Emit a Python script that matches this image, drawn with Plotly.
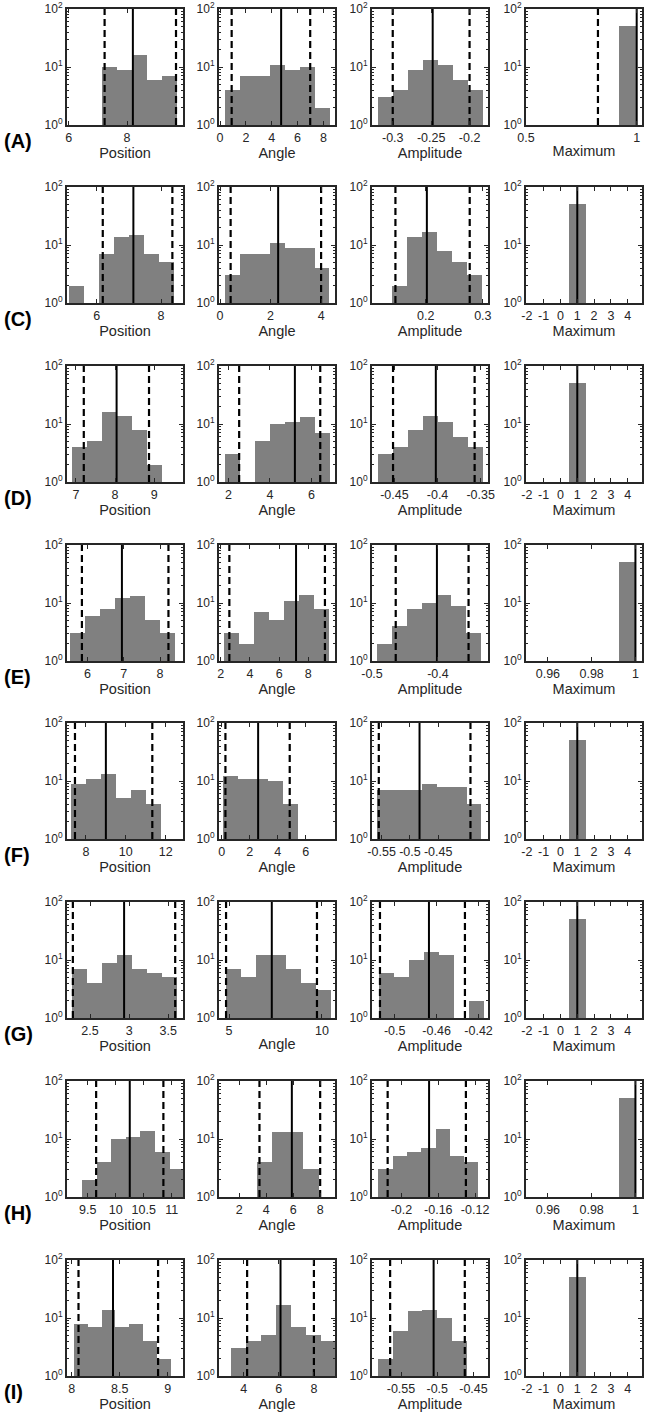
import plotly.graph_objects as go

W, H = 646, 1418

ROW_LABELS = ["(A)", "(C)", "(D)", "(E)", "(F)", "(G)", "(H)", "(I)"]
PARAM_NAMES = ["Position", "Angle", "Amplitude", "Maximum"]

# ---------------- Position ----------------
POSITION_BIN_START = [7.14, 5.13, 6.89, 5.53, 7.25, 2.27, 9.40, 8.02]
POSITION_BIN_WIDTH = [0.515, 0.466, 0.385, 0.413, 0.754, 0.192, 0.26, 0.145]
POSITION_COUNTS = [
    [10, 9, 16, 6, 7],
    [2, 0, 7, 14, 15, 7, 5],
    [4, 5, 16, 14, 8, 2],
    [3, 6, 8, 12, 13, 5, 3],
    [9, 11, 13, 5, 7, 4],
    [7, 4, 9, 12, 7, 6, 5],
    [2, 4, 10, 11, 14, 6, 3],
    [8, 7, 14, 7, 8, 4, 2],
]
POSITION_SOLID = [8.2, 7.14, 8.04, 6.95, 9.0, 2.936, 10.25, 8.43]
POSITION_DASH_LO = [7.23, 6.19, 7.2, 5.85, 7.45, 2.28, 9.65, 8.07]
POSITION_DASH_HI = [9.68, 8.35, 8.87, 8.23, 11.33, 3.59, 10.85, 8.9]
POSITION_XRANGE = [[5.94, 9.92], [5.08, 8.68], [6.77, 9.74], [5.44, 8.63],
                   [7.05, 12.87], [2.205, 3.69], [9.13, 11.2], [7.95, 9.16]]
POSITION_TICKS = [[6, 8], [6, 8], [7, 8, 9], [6, 7, 8], [8, 10, 12],
                  [2.5, 3, 3.5], [9.5, 10, 10.5, 11], [8, 8.5, 9]]

# ---------------- Angle ----------------
ANGLE_BIN_START = [0.41, 0.2, 1.84, 2.23, 0.07, 4.82, 3.3, 3.3]
ANGLE_BIN_WIDTH = [1.16, 0.59, 0.72, 1.03, 1.08, 0.806, 1.15, 0.85]
ANGLE_COUNTS = [
    [4, 7, 7, 11, 9, 10, 2],
    [3, 7, 7, 11, 9, 9, 4],
    [3, 0, 5, 10, 11, 13, 7],
    [3, 2, 7, 5, 11, 14, 8],
    [12, 11, 11, 10, 4],
    [7, 5, 12, 12, 7, 4, 3],
    [4, 13, 13, 3],
    [3, 4, 5, 17, 7, 5, 4],
]
ANGLE_SOLID = [4.73, 2.3, 5.2, 7.16, 2.6, 7.3, 5.9, 6.1]
ANGLE_DASH_LO = [0.9, 0.42, 2.52, 2.59, 0.26, 4.84, 3.5, 4.2]
ANGLE_DASH_HI = [6.98, 4.0, 6.42, 9.14, 4.86, 9.73, 8.0, 8.0]
ANGLE_XRANGE = [[-0.08, 8.9], [-0.04, 4.55], [1.55, 7.13], [1.88, 9.83],
                [-0.2, 8.1], [4.46, 10.7], [0.5, 9.1], [2.6, 9.2]]
ANGLE_TICKS = [[0, 2, 4, 6, 8], [0, 2, 4], [2, 4, 6], [2, 4, 6, 8],
               [0, 2, 4, 6], [5, 10], [2, 4, 6, 8], [4, 6, 8]]

# ---------------- Amplitude ----------------
AMPLITUDE_BIN_START = [-0.319, 0.141, -0.469, -0.493, -0.559, -0.515, -0.225, -0.582]
AMPLITUDE_BIN_WIDTH = [0.0195, 0.0262, 0.01736, 0.0227, 0.0265, 0.0143, 0.0155, 0.0205]
AMPLITUDE_COUNTS = [
    [3, 4, 9, 13, 11, 6, 4],
    [2, 14, 17, 8, 5, 3],
    [3, 4, 8, 14, 11, 6, 4],
    [2, 4, 8, 10, 14, 9, 3],
    [7, 7, 7, 9, 8, 8, 4],
    [6, 5, 10, 14, 12, 0, 2],
    [3, 5, 6, 7, 15, 5, 4],
    [2, 6, 13, 14, 10, 4],
]
AMPLITUDE_SOLID = [-0.248, 0.202, -0.402, -0.4015, -0.483, -0.4673, -0.17, -0.505]
AMPLITUDE_DASH_LO = [-0.3, 0.147, -0.4516, -0.464, -0.555, -0.514, -0.215, -0.565]
AMPLITUDE_DASH_HI = [-0.2, 0.277, -0.357, -0.3535, -0.393, -0.433, -0.13, -0.462]
AMPLITUDE_XRANGE = [[-0.327, -0.176], [0.106, 0.309], [-0.476, -0.3415], [-0.5, -0.324],
                    [-0.567, -0.362], [-0.5216, -0.411], [-0.232, -0.106], [-0.59, -0.43]]
AMPLITUDE_TICKS = [[-0.3, -0.25, -0.2], [0.2, 0.3], [-0.45, -0.4, -0.35], [-0.5, -0.4],
                   [-0.55, -0.5, -0.45], [-0.5, -0.46, -0.42], [-0.2, -0.16, -0.12],
                   [-0.55, -0.5, -0.45]]

# ---------------- Maximum ----------------
MAXIMUM_BIN_START = [0.92, 0.5, 0.5, 0.9925, 0.5, 0.5, 0.9925, 0.5]
MAXIMUM_BIN_WIDTH = [0.08, 1.0, 1.0, 0.0075, 1.0, 1.0, 0.0075, 1.0]
MAXIMUM_COUNTS = [[50], [50], [50], [50], [50], [50], [50], [50]]
MAXIMUM_SOLID = [1.0, 1.0, 1.0, 1.0, 1.0, 1.0, 1.0, 1.0]
MAXIMUM_DASH_LO = [0.825, None, None, None, None, None, None, None]
MAXIMUM_DASH_HI = [None, None, None, None, None, None, None, None]
MAXIMUM_XRANGE = [[0.5, 1.024], [-2.05, 4.85], [-2.05, 4.85], [0.95, 1.003],
                  [-2.05, 4.85], [-2.05, 4.85], [0.95, 1.003], [-2.05, 4.85]]
MAXIMUM_TICKS = [[0.5, 1], [-2, -1, 0, 1, 2, 3, 4], [-2, -1, 0, 1, 2, 3, 4],
                 [0.96, 0.98, 1], [-2, -1, 0, 1, 2, 3, 4], [-2, -1, 0, 1, 2, 3, 4],
                 [0.96, 0.98, 1], [-2, -1, 0, 1, 2, 3, 4]]

COLUMNS = [
    (POSITION_BIN_START, POSITION_BIN_WIDTH, POSITION_COUNTS, POSITION_SOLID,
     POSITION_DASH_LO, POSITION_DASH_HI, POSITION_XRANGE, POSITION_TICKS),
    (ANGLE_BIN_START, ANGLE_BIN_WIDTH, ANGLE_COUNTS, ANGLE_SOLID,
     ANGLE_DASH_LO, ANGLE_DASH_HI, ANGLE_XRANGE, ANGLE_TICKS),
    (AMPLITUDE_BIN_START, AMPLITUDE_BIN_WIDTH, AMPLITUDE_COUNTS, AMPLITUDE_SOLID,
     AMPLITUDE_DASH_LO, AMPLITUDE_DASH_HI, AMPLITUDE_XRANGE, AMPLITUDE_TICKS),
    (MAXIMUM_BIN_START, MAXIMUM_BIN_WIDTH, MAXIMUM_COUNTS, MAXIMUM_SOLID,
     MAXIMUM_DASH_LO, MAXIMUM_DASH_HI, MAXIMUM_XRANGE, MAXIMUM_TICKS),
]

# layout geometry (pixels)
COL_LEFT = [67, 219, 372, 526]
PANEL_W = 116
ROW_TOP = [9, 187, 366, 545, 723, 902, 1081, 1260]
PANEL_H = 116

FONT = "Liberation Sans, Arial, sans-serif"
AX_COLOR = "#262626"
BAR_COLOR = "#808080"


def fmt(v):
    return "%g" % v


def px_x(p):
    return p / W


def px_y(p):
    return 1 - p / H


fig = go.Figure()
layout = dict(
    width=W, height=H, margin=dict(l=0, r=0, t=0, b=0, pad=0, autoexpand=False),
    paper_bgcolor="white", plot_bgcolor="white", showlegend=False,
    font=dict(family=FONT, size=12, color=AX_COLOR),
    annotations=[],
)

minor_vals = [m * 10 ** e for e in range(0, 2) for m in range(2, 10)]

for r in range(len(ROW_LABELS)):
    for c in range(4):
        n = r * 4 + c + 1
        xa = "x" if n == 1 else f"x{n}"
        ya = "y" if n == 1 else f"y{n}"
        start, width, counts, solid, dlo, dhi, xr, ticks = [col[r] for col in COLUMNS[c]]
        centers = [start + width * (i + 0.5) for i in range(len(counts))]
        yvals = [v if v > 0 else None for v in counts]
        fig.add_trace(go.Bar(x=centers, y=yvals, width=[width] * len(counts),
                             marker=dict(color=BAR_COLOR, line=dict(width=0)),
                             xaxis=xa, yaxis=ya, hoverinfo="skip"))
        for v in (dlo, dhi):
            if v is not None:
                fig.add_trace(go.Scatter(x=[v, v], y=[1, 100], mode="lines",
                                         line=dict(color="black", width=2.2, dash="7px,4px"),
                                         xaxis=xa, yaxis=ya, hoverinfo="skip"))
        fig.add_trace(go.Scatter(x=[solid, solid], y=[1, 100], mode="lines",
                                 line=dict(color="black", width=2),
                                 xaxis=xa, yaxis=ya, hoverinfo="skip"))

        xkey = "xaxis" if n == 1 else f"xaxis{n}"
        ykey = "yaxis" if n == 1 else f"yaxis{n}"
        layout[xkey] = dict(
            domain=[px_x(COL_LEFT[c]), px_x(COL_LEFT[c] + PANEL_W)],
            anchor=ya, range=xr, automargin=False, ticklabeloverflow="allow",
            tickmode="array", tickvals=ticks, ticktext=[fmt(t) for t in ticks],
            tickangle=0,
            ticks="inside", ticklen=4, tickwidth=1.2, tickcolor=AX_COLOR,
            showline=True, linecolor=AX_COLOR, linewidth=2, mirror="ticks",
            showgrid=False, zeroline=False,
            tickfont=dict(size=12.5, color=AX_COLOR, family=FONT),
            title=dict(text=PARAM_NAMES[c], font=dict(size=14.5, color=AX_COLOR, family=FONT),
                       standoff=2),
        )
        layout[ykey] = dict(
            domain=[px_y(ROW_TOP[r] + PANEL_H), px_y(ROW_TOP[r])],
            anchor=xa, type="log", range=[0, 2], automargin=False, ticklabeloverflow="allow",
            tickmode="array", tickvals=[1, 10, 100],
            ticktext=["10<sup>0</sup>", "10<sup>1</sup>", "10<sup>2</sup>"],
            tickangle=0,
            ticks="inside", ticklen=4, tickwidth=1.2, tickcolor=AX_COLOR,
            minor=dict(tickmode="array", tickvals=minor_vals, ticks="inside",
                       ticklen=2, tickwidth=1, tickcolor=AX_COLOR),
            showline=True, linecolor=AX_COLOR, linewidth=2, mirror="ticks",
            showgrid=False, zeroline=False,
            tickfont=dict(size=12, color=AX_COLOR, family=FONT),
        )
    layout["annotations"].append(dict(
        text=f"<b>{ROW_LABELS[r]}</b>", x=px_x(2), y=px_y(ROW_TOP[r] + PANEL_H + 16),
        xref="paper", yref="paper", xanchor="left", yanchor="middle", showarrow=False,
        font=dict(size=20, color="black", family=FONT)))

fig.update_layout(**layout)
fig.update_layout(bargap=0)
# remove the default 8px page margin so the figure fills the window exactly
fig.write_html("out.html", config={"displayModeBar": False},
               post_script="document.body.style.margin='0px';")
